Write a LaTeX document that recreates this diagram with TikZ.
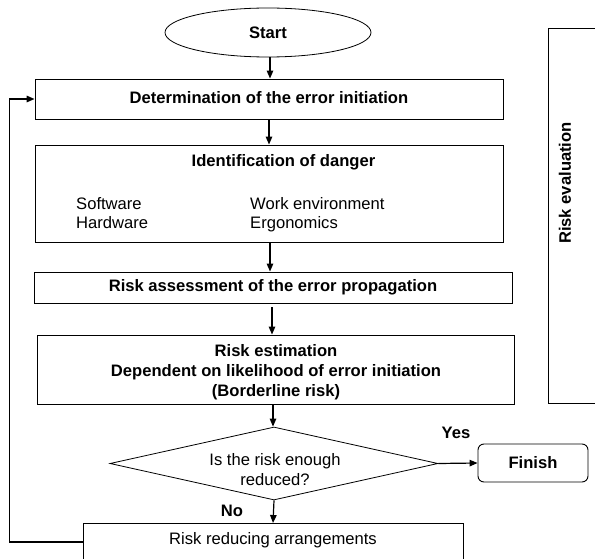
\documentclass[tikz,border=0pt]{standalone}
\usepackage{fontspec}
\setmainfont{Liberation Sans}
\usetikzlibrary{shapes.geometric,arrows.meta}
\tikzset{
  box/.style={draw, line width=0.9pt, rectangle, inner sep=0pt},
  txt/.style={inner sep=0pt, font=\fontsize{16.6}{19.5}\selectfont},
  btxt/.style={inner sep=0pt, font=\fontsize{16.6}{20}\selectfont\bfseries},
  arr/.style={line width=1.2pt, -{Triangle[length=8pt,width=6.5pt]}},
  loop/.style={line width=1.6pt, -{Triangle[length=8pt,width=6.5pt]}}
}
\begin{document}
\begin{tikzpicture}[x=1pt,y=-1pt]
\useasboundingbox (0,0) rectangle (595,559);
\fill[white] (0,0) rectangle (595,559);
\clip (0,0) rectangle (595,559);
% start
\node[ellipse, draw, line width=0.8pt, minimum width=206pt, minimum height=49pt, inner sep=0pt, btxt] (start) at (268,32.5) {Start};
% determination
\node[box, minimum width=468pt, minimum height=40pt] (det) at (269,99) {};
\node[btxt] (dettxt) at (269,98) {Determination of the error initiation};
% identification
\node[box, minimum width=468pt, minimum height=97pt] (ident) at (269,193.5) {};
\node[btxt] (identtxt) at (283.5,162) {Identification of danger};
\node[txt, anchor=base west] (sw) at (76,210) {Software};
\node[txt, anchor=base west] (hw) at (76,229) {Hardware};
\node[txt, anchor=base west] (we) at (250,210) {Work environment};
\node[txt, anchor=base west] (er) at (250,229) {Ergonomics};
% assessment
\node[box, minimum width=478pt, minimum height=31pt] (assess) at (273,287.5) {};
\node[btxt] (assesstxt) at (273,287) {Risk assessment of the error propagation};
% estimation
\node[box, minimum width=477pt, minimum height=69pt] (estim) at (275.5,369.5) {};
\node[btxt, align=center] (estimtxt) at (276,372) {Risk estimation\\Dependent on likelihood of error initiation\\(Borderline risk)};
% decision
\node[diamond, draw, line width=0.8pt, aspect=4.49, minimum width=328pt, minimum height=73pt, inner sep=0pt] (dia) at (274,463.5) {};
\node[txt, align=center] (diatxt) at (275,469.5) {Is the risk enough\\reduced?};
% finish
\node[draw, line width=0.9pt, rounded corners=6pt, minimum width=110pt, minimum height=38pt, inner sep=0pt, btxt] (finish) at (533,463) {Finish};
% reducing
\node[box, minimum width=380pt, minimum height=70pt, anchor=north] (reduce) at (273,523) {};
\node[txt] (reducetxt) at (273,540) {Risk reducing arrangements};
% evaluation
\node[box, minimum width=120pt, minimum height=375pt, anchor=north west] (eval) at (548,28) {};
\node[btxt, rotate=90] (evaltxt) at (565,183) {Risk evaluation};
% labels
\node[btxt] (yes) at (456,433) {Yes};
\node[btxt] (no) at (232,511) {No};
% connectors
\draw[arr] (start.south -| 270,0) -- (270,0 |- det.north);
\draw[arr] (det.south -| 269,0) -- (269,0 |- ident.north);
\draw[arr] (ident.south -| 270,0) -- (270,0 |- assess.north);
\draw[arr] ([yshift=-4pt]assess.south -| 272,0) -- (272,0 |- estim.north);
\draw[arr] (estim.south -| 273,0) -- (273,0 |- dia.north);
\draw[arr] (dia.east) -- (finish.west);
\draw[arr] (dia.south) -- (273,0 |- reduce.north);
\draw[loop] ([yshift=-19pt]reduce.north west) -- ++(-73,0) |- (det.west);
\end{tikzpicture}
\end{document}
